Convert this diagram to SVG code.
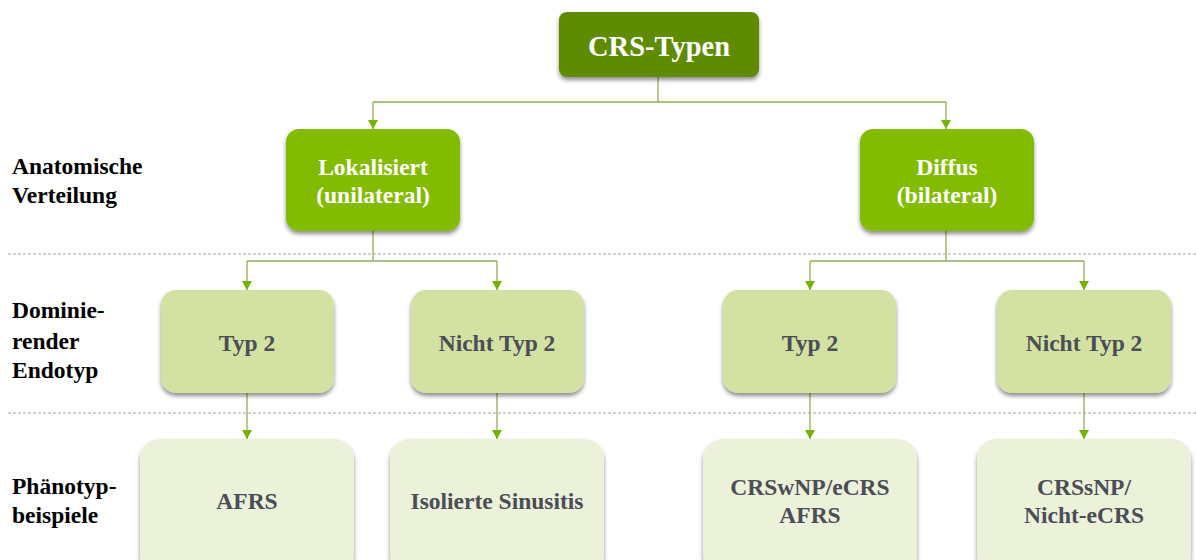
<svg xmlns="http://www.w3.org/2000/svg" width="1196" height="560" viewBox="0 0 1196 560">
<style>
.lbl{font-family:"Liberation Serif","Times New Roman",serif;font-weight:bold;font-size:23.5px;fill:#000}
.t1{font-family:"Liberation Serif","Times New Roman",serif;font-weight:bold;font-size:28.5px;fill:#fff;text-anchor:middle}
.t2{font-family:"Liberation Serif","Times New Roman",serif;font-weight:bold;font-size:23.5px;fill:#fff;text-anchor:middle}
.t3{font-family:"Liberation Serif","Times New Roman",serif;font-weight:bold;font-size:23.5px;fill:#4b4d57;text-anchor:middle}
.b1{fill:#5f8b00}
.b2{fill:#83bb00}
.b3{fill:#d3e2a3}
.b4{fill:#ecf2da}
.conn{fill:none;stroke:#90ad58;stroke-width:1.3}
.dash{stroke:#a6a6a6;stroke-width:1.2;stroke-dasharray:3 2}
</style>
<defs>
<filter id="sh" x="-10%" y="-10%" width="120%" height="130%">
<feGaussianBlur in="SourceAlpha" stdDeviation="2"/>
<feOffset dx="0" dy="3" result="o"/>
<feComponentTransfer><feFuncA type="linear" slope="0.45"/></feComponentTransfer>
<feMerge><feMergeNode/><feMergeNode in="SourceGraphic"/></feMerge>
</filter>
<marker id="ah" markerWidth="10" markerHeight="10" refX="9" refY="5" orient="auto" markerUnits="userSpaceOnUse">
<path d="M0,0 L9,5 L0,10 Z" fill="#76b300"/>
</marker>
</defs>
<rect width="1196" height="560" fill="#fff"/>
<g id="separators">
<line class="dash" x1="8" y1="254" x2="1196" y2="254"/>
<line class="dash" x1="8" y1="413" x2="1196" y2="413"/>
</g>
<g id="row-labels">
<text class="lbl" x="12" y="174">Anatomische</text>
<text class="lbl" x="12" y="203">Verteilung</text>
<text class="lbl" x="12" y="318">Dominie-</text>
<text class="lbl" x="12" y="349">render</text>
<text class="lbl" x="12" y="378">Endotyp</text>
<text class="lbl" x="12" y="494">Phänotyp-</text>
<text class="lbl" x="12" y="523">beispiele</text>
</g>
<g id="connectors">
<path class="conn" d="M658,77 V102 M373,102 H946"/>
<path class="conn" d="M373,102 V129" marker-end="url(#ah)"/>
<path class="conn" d="M946,102 V129" marker-end="url(#ah)"/>
<path class="conn" d="M373,231 V261 M247,261 H497"/>
<path class="conn" d="M247,261 V290" marker-end="url(#ah)"/>
<path class="conn" d="M497,261 V290" marker-end="url(#ah)"/>
<path class="conn" d="M946,231 V261 M810,261 H1084"/>
<path class="conn" d="M810,261 V290" marker-end="url(#ah)"/>
<path class="conn" d="M1084,261 V290" marker-end="url(#ah)"/>
<path class="conn" d="M247,393 V439" marker-end="url(#ah)"/>
<path class="conn" d="M497,393 V439" marker-end="url(#ah)"/>
<path class="conn" d="M810,393 V439" marker-end="url(#ah)"/>
<path class="conn" d="M1084,393 V439" marker-end="url(#ah)"/>
</g>
<g id="crs-typen">
<rect class="b1" x="559" y="12" width="200" height="65" rx="8" filter="url(#sh)"/>
<text class="t1" x="659" y="56">CRS-Typen</text>
</g>
<g id="lokalisiert">
<rect class="b2" x="286" y="129" width="174" height="102" rx="13" filter="url(#sh)"/>
<text class="t2" x="373" y="175">Lokalisiert</text>
<text class="t2" x="373" y="203">(unilateral)</text>
</g>
<g id="diffus">
<rect class="b2" x="860" y="129" width="174" height="102" rx="13" filter="url(#sh)"/>
<text class="t2" x="947" y="175">Diffus</text>
<text class="t2" x="947" y="203">(bilateral)</text>
</g>
<g id="typ2-left">
<rect class="b3" x="161" y="290" width="173" height="103" rx="15" filter="url(#sh)"/>
<text class="t3" x="247" y="351">Typ 2</text>
</g>
<g id="nicht-typ2-left">
<rect class="b3" x="411" y="290" width="173" height="103" rx="15" filter="url(#sh)"/>
<text class="t3" x="497" y="351">Nicht Typ 2</text>
</g>
<g id="typ2-right">
<rect class="b3" x="723" y="290" width="173" height="103" rx="15" filter="url(#sh)"/>
<text class="t3" x="810" y="351">Typ 2</text>
</g>
<g id="nicht-typ2-right">
<rect class="b3" x="997" y="290" width="174" height="103" rx="15" filter="url(#sh)"/>
<text class="t3" x="1084" y="351">Nicht Typ 2</text>
</g>
<g id="afrs">
<rect class="b4" x="140" y="439" width="214" height="135" rx="20" filter="url(#sh)"/>
<text class="t3" x="247" y="509">AFRS</text>
</g>
<g id="isolierte-sinusitis">
<rect class="b4" x="390" y="439" width="214" height="135" rx="20" filter="url(#sh)"/>
<text class="t3" x="497" y="509">Isolierte Sinusitis</text>
</g>
<g id="crswnp">
<rect class="b4" x="703" y="439" width="214" height="135" rx="20" filter="url(#sh)"/>
<text class="t3" x="810" y="495">CRSwNP/eCRS</text>
<text class="t3" x="810" y="523">AFRS</text>
</g>
<g id="crssnp">
<rect class="b4" x="977" y="439" width="214" height="135" rx="20" filter="url(#sh)"/>
<text class="t3" x="1084" y="495">CRSsNP/</text>
<text class="t3" x="1084" y="523">Nicht-eCRS</text>
</g>
</svg>
